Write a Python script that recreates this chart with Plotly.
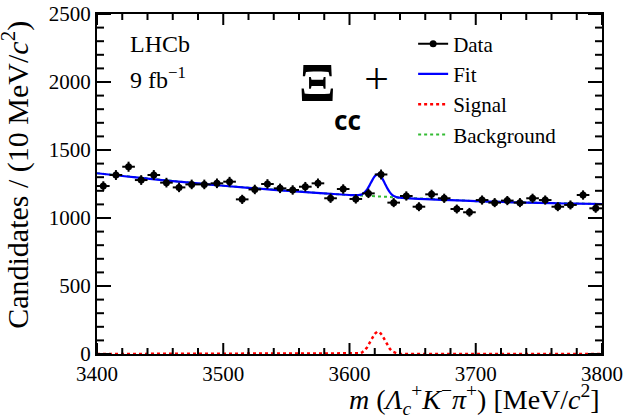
import numpy as np
import plotly.graph_objects as go

# ---- data (10 MeV bins, 3400-3800) ----
bin_centers = [3405 + 10 * i for i in range(40)]
counts = [1235, 1316, 1377, 1279, 1316, 1260, 1225, 1247, 1247, 1255,
          1267, 1137, 1210, 1250, 1218, 1206, 1230, 1255, 1145, 1213,
          1140, 1181, 1320, 1113, 1162, 1083, 1174, 1145, 1066, 1042,
          1132, 1113, 1128, 1113, 1145, 1132, 1083, 1096, 1169, 1071]

# ---- fit curves ----
curve_x = [3400, 3420, 3440, 3460, 3480, 3500, 3520, 3540, 3560, 3580, 3600,
           3602, 3604, 3606, 3608, 3610, 3612, 3614, 3616, 3618, 3620, 3622,
           3624, 3626, 3628, 3630, 3632, 3634, 3636, 3638, 3640, 3642, 3644,
           3660, 3680, 3700, 3720, 3740, 3760, 3780, 3800]
background = [1329, 1309, 1290, 1271, 1254, 1237, 1222, 1207, 1194, 1181, 1169,
              1168, 1167, 1166, 1165, 1163, 1162, 1161, 1160, 1159, 1158, 1157,
              1156, 1155, 1154, 1153, 1152, 1151, 1150, 1149, 1148, 1147, 1146,
              1139, 1131, 1124, 1118, 1113, 1109, 1105, 1103]
signal = [0, 0, 0, 0, 0, 0, 0, 0, 0, 0, 0,
          0, 0.6, 1.8, 5, 12, 27, 50, 82, 118, 149, 164,
          159, 135, 100, 65, 37, 18, 8, 3, 1, 0.3, 0,
          0, 0, 0, 0, 0, 0, 0, 0]
fit = [b + s for b, s in zip(background, signal)]

# ---- axis tick values ----
x_major_ticks = [3400, 3500, 3600, 3700, 3800]
x_minor_ticks = [v for v in range(3420, 3800, 20) if v % 100 != 0]
y_major_ticks = [0, 500, 1000, 1500, 2000, 2500]
y_minor_ticks = [v for v in range(100, 2500, 100) if v % 500 != 0]

errors = list(np.sqrt(np.array(counts, dtype=float)))

# interleave None so the legend shows a line+marker but no lines are drawn in plot
data_x, data_y, data_err = [], [], []
for x, y, e in zip(bin_centers, counts, errors):
    data_x += [x, None]
    data_y += [y, None]
    data_err += [e, None]

SERIF = "Liberation Serif, Times New Roman, serif"
PLOT_W, PLOT_H = 505, 340   # plot area size in px (from margins below)

fig = go.Figure()
fig.add_trace(go.Scatter(x=curve_x, y=signal, mode="lines", name="Signal", legendrank=3,
                         line=dict(color="#ff0000", width=2.5, dash="dot")))
fig.add_trace(go.Scatter(x=curve_x, y=background, mode="lines", name="Background", legendrank=4,
                         line=dict(color="#33bb33", width=2, dash="dot")))
fig.add_trace(go.Scatter(x=curve_x, y=fit, mode="lines", name="Fit", legendrank=2,
                         line=dict(color="#0000ff", width=2.2), line_shape="spline"))
fig.add_trace(go.Scatter(x=data_x, y=data_y, mode="lines+markers", name="Data", legendrank=1,
                         connectgaps=False,
                         line=dict(color="black", width=2),
                         marker=dict(color="black", size=7, symbol="circle"),
                         error_y=dict(type="data", array=data_err, color="black", thickness=2, width=0),
                         error_x=dict(type="constant", value=5, color="black", thickness=2, width=0)))

fig.update_layout(
    width=626, height=418, autosize=False,
    margin=dict(l=97, r=24, t=14, b=64, autoexpand=False),
    plot_bgcolor="white", paper_bgcolor="white",
    font=dict(family=SERIF, size=20, color="black"),
    showlegend=True,
    legend=dict(x=0.626, y=0.972, xanchor="left", yanchor="top",
                font=dict(family=SERIF, size=21, color="black"),
                bgcolor="rgba(0,0,0,0)", traceorder="normal",
                itemwidth=30),
    xaxis=dict(range=[3400, 3800], tickmode="array", tickvals=x_major_ticks, automargin=False,
               showline=True, linecolor="black", linewidth=2, mirror=True,
               ticks="", showgrid=False, zeroline=False,
               tickfont=dict(family=SERIF, size=21, color="black")),
    yaxis=dict(range=[0, 2500], tickmode="array", tickvals=y_major_ticks, automargin=False,
               showline=True, linecolor="black", linewidth=2, mirror=True,
               ticks="", showgrid=False, zeroline=False, ticksuffix=" ",
               tickfont=dict(family=SERIF, size=21, color="black")),
)

# inside tick marks on all four sides (ROOT style), placed on the library's axis scales
tick_line = dict(color="black", width=2)
for vals, length in ((x_major_ticks, 11), (x_minor_ticks, 6)):
    h = length / PLOT_H
    for v in vals:
        fig.add_shape(type="line", xref="x", yref="paper", x0=v, x1=v, y0=0, y1=h, line=tick_line, layer="above")
        fig.add_shape(type="line", xref="x", yref="paper", x0=v, x1=v, y0=1, y1=1 - h, line=tick_line, layer="above")
for vals, length in ((y_major_ticks, 14), (y_minor_ticks, 7)):
    w = length / PLOT_W
    for v in vals:
        fig.add_shape(type="line", xref="paper", yref="y", x0=0, x1=w, y0=v, y1=v, line=tick_line, layer="above")
        fig.add_shape(type="line", xref="paper", yref="y", x0=1, x1=1 - w, y0=v, y1=v, line=tick_line, layer="above")

annots = [
    dict(text="<i>m</i> (<i>Λ</i><sub><i>c</i></sub><sup>+</sup><i>K</i><sup>−</sup><i>π</i><sup>+</sup>) [MeV/<i>c</i><sup>2</sup>]",
         x=1.0, y=-0.135, xanchor="right", font=dict(family=SERIF, size=28, color="black")),
    dict(text="Candidates / (10 MeV/<i>c</i><sup>2</sup>)", x=-0.1604, y=0.527, xanchor="center",
         textangle=-90, font=dict(family=SERIF, size=30, color="black")),
    dict(text="LHCb", x=0.0614, y=0.912, xanchor="left", font=dict(family=SERIF, size=24, color="black")),
    dict(text="9 fb<sup>−1</sup>", x=0.0614, y=0.812, xanchor="left", font=dict(family=SERIF, size=24, color="black")),
    dict(text="<b>Ξ</b>", x=0.396, y=0.796, xanchor="left", font=dict(family=SERIF, size=54, color="black")),
    dict(text="<b>cc</b>", x=0.466, y=0.688, xanchor="left", font=dict(family="Noto Sans", size=26, color="black")),
    dict(text="+", x=0.525, y=0.816, xanchor="left", font=dict(family="Noto Sans", size=44, color="black", weight=300)),
]
for a in annots:
    fig.add_annotation(xref="paper", yref="paper", showarrow=False, yanchor="middle", **a)

fig.write_html("out.html", config={"displayModeBar": False},
               post_script="document.body.style.margin='0';")
